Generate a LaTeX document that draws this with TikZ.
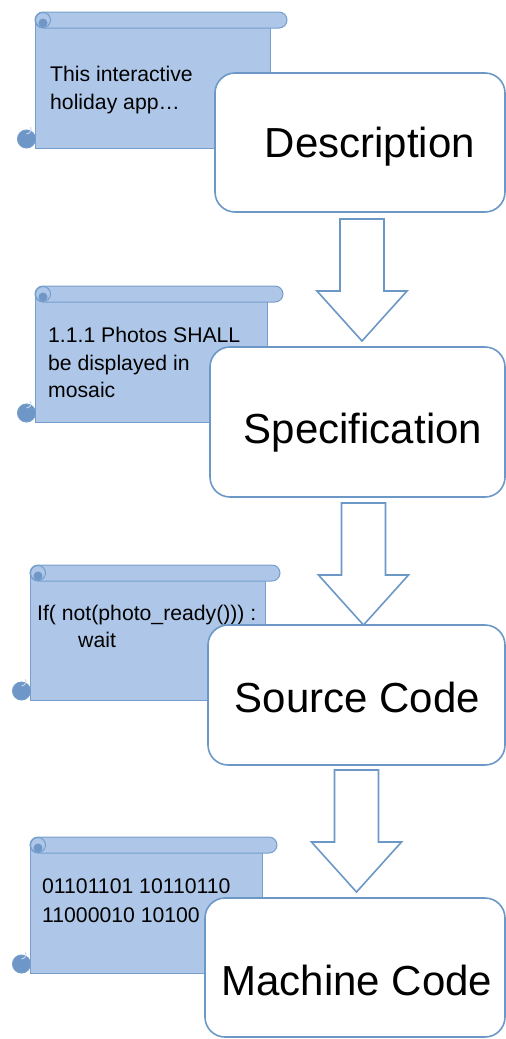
\documentclass[tikz,border=0pt]{standalone}
\usepackage{fontspec}
\setmainfont{Liberation Sans}

\definecolor{scrollfill}{RGB}{174,199,232}
\definecolor{scrollline}{RGB}{118,158,204}
\definecolor{curlfill}{RGB}{110,150,198}
\definecolor{boxline}{RGB}{108,152,200}

\tikzset{
  scrollpart/.style={fill=scrollfill, draw=scrollline, line width=1pt},
  stagebox/.style={rectangle, rounded corners=20pt, draw=boxline, line width=1.6pt,
                   fill=white, inner sep=0pt},
  stagetext/.style={anchor=base, inner sep=0pt, font=\fontsize{42}{50}\selectfont},
  notetext/.style={anchor=base west, inner sep=0pt, font=\fontsize{21.2}{26}\selectfont},
  blockarrow/.style={draw=boxline, line width=1.6pt, fill=white, line join=miter},
}

% a horizontal scroll: body left, body right, roll right end, top, bottom
\newcommand\drawscroll[5]{%
  \filldraw[scrollpart] (#1,#4+8) rectangle (#2,#5);
  \filldraw[scrollpart, rounded corners=8pt] (#1,#4) rectangle (#3,#4+16);
  \fill[curlfill] (#1+8,#4+11) circle (4.5);
  \draw[scrollline, line width=1pt] (#1+8,#4+8) circle (7.5);
  \filldraw[fill=curlfill, draw=scrollline, line width=1pt] (#1-8.5,#5-9) circle (9);
  \draw[scrollfill!70!white, line width=1pt] (#1-8.5,#5-14) arc (90:-30:4.5);
}

% a hollow downward block arrow: centre x, top y
\newcommand\stagearrow[2]{%
  \draw[blockarrow] (#1-22,#2) -- (#1+22,#2) -- (#1+22,#2+72) -- (#1+45,#2+72)
    -- (#1,#2+122) -- (#1-45,#2+72) -- (#1-22,#2+72) -- cycle;
}

\begin{document}
\begin{tikzpicture}[x=1pt, y=-1pt]
\useasboundingbox (0,0) rectangle (506,1039);

% ---- scrolls with notes ----
\drawscroll{35}{270}{287}{12}{148}
\node[notetext] (n1a) at (50,81)  {This interactive};
\node[notetext] (n1b) at (50,109) {holiday app…};

\drawscroll{35}{267}{283}{286}{422}
\node[notetext] (n2a) at (48,342) {1.1.1 Photos SHALL};
\node[notetext] (n2b) at (48,370) {be displayed in};
\node[notetext] (n2c) at (48,397) {mosaic};

\drawscroll{30}{265}{280}{565}{700}
\node[notetext] (n3a) at (37,620) {If( not(photo\_ready())) :};
\node[notetext] (n3b) at (78,647) {wait};

\drawscroll{30}{262}{277}{837}{973}
\node[notetext] (n4a) at (42,893) {01101101 10110110};
\node[notetext] (n4b) at (42,922) {11000010 10100};

% ---- stages ----
\node[stagebox, minimum width=290pt, minimum height=139pt] (desc) at (360,142.5) {};
\node[stagetext] (desctext) at (370,157) {Description};

\node[stagebox, minimum width=295pt, minimum height=150pt] (spec) at (357.5,422) {};
\node[stagetext] (spectext) at (363,443) {Specification};

\node[stagebox, minimum width=297pt, minimum height=140pt] (src) at (356.5,695) {};
\node[stagetext] (srctext) at (357.5,712) {Source Code};

\node[stagebox, minimum width=300pt, minimum height=139pt] (mach) at (355,967.5) {};
\node[stagetext] (machtext) at (357,995) {Machine Code};

% ---- arrows between stages ----
\stagearrow{362}{219}
\stagearrow{363.5}{503}
\stagearrow{356.5}{770}
\end{tikzpicture}
\end{document}
